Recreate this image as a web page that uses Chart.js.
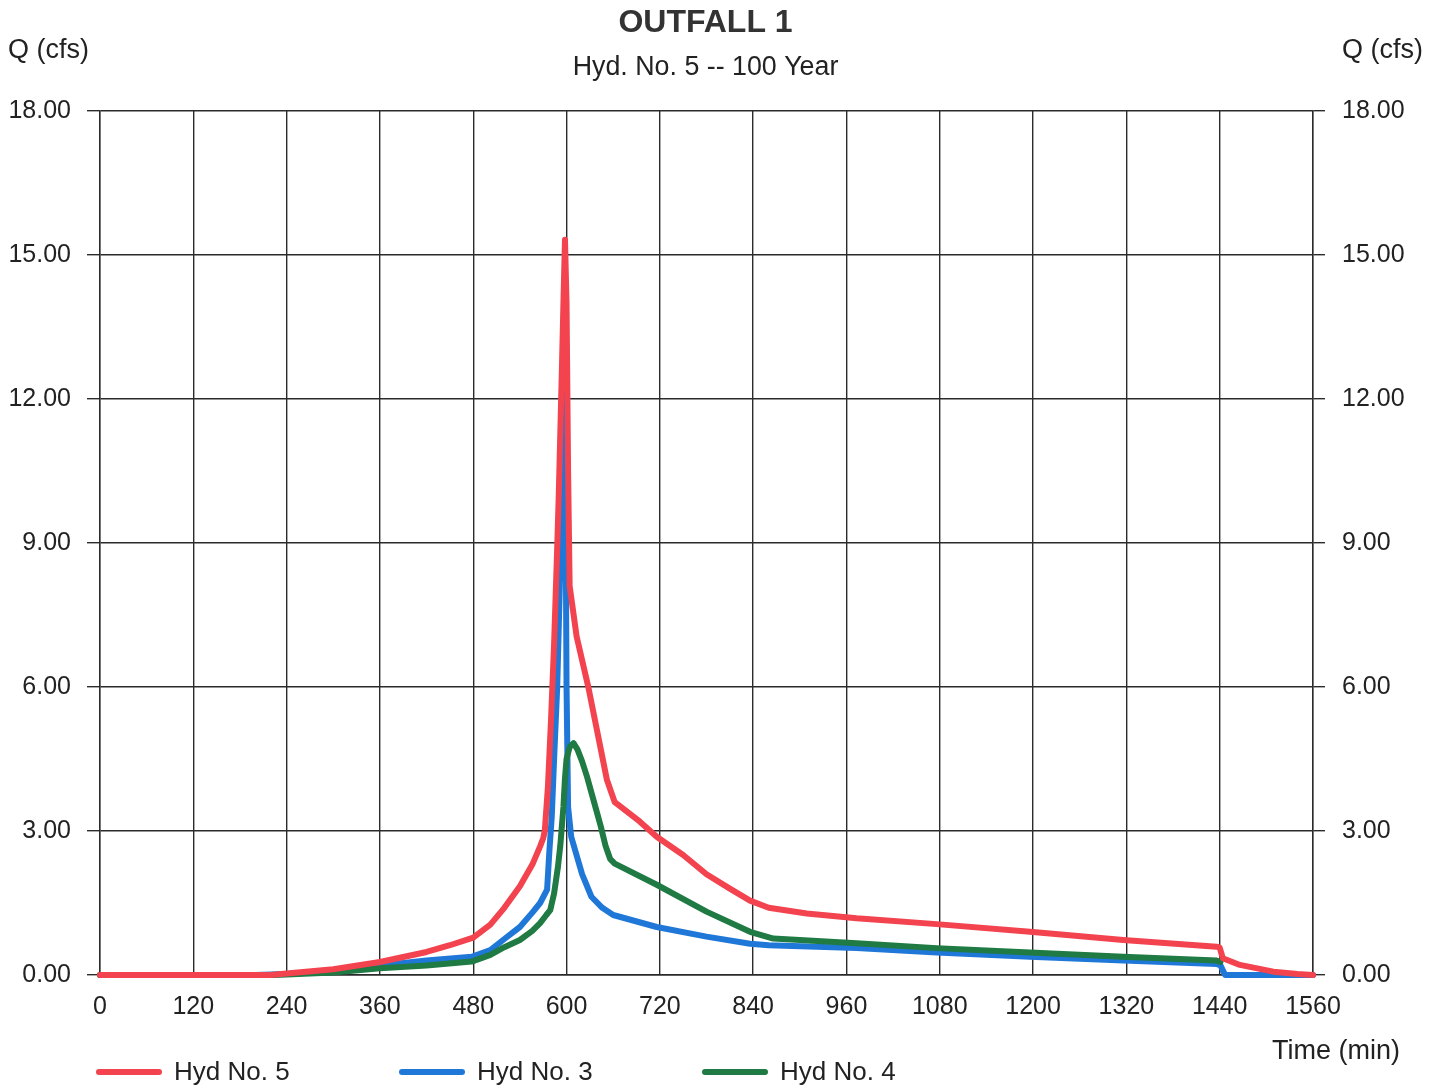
<!DOCTYPE html>
<html>
<head>
<meta charset="utf-8">
<title>OUTFALL 1</title>
<script src="https://cdn.jsdelivr.net/npm/chart.js@4.4.1/dist/chart.umd.min.js"></script>
<style>
  html, body { margin: 0; padding: 0; background: #ffffff; }
  #wrap { width: 1441px; height: 1089px; position: relative; }
</style>
</head>
<body>
<div id="wrap"><canvas id="hydro" width="1441" height="1089"></canvas></div>
<script>
// Hydrograph ordinates: time (min) and flow Q (cfs)
const hyd5Time = [0, 220, 240, 300, 360, 420, 450, 480, 502, 520, 540, 556, 566, 570, 572, 576, 580, 584, 588, 590, 592, 594, 596, 598, 600, 602, 604, 613, 628, 652, 662, 694, 716, 750, 780, 810, 836, 860, 909, 973, 1076, 1196, 1316, 1436, 1440, 1444, 1466, 1509, 1540, 1560];
const hyd5Flow = [0, 0, 0.03, 0.12, 0.27, 0.48, 0.62, 0.78, 1.05, 1.40, 1.85, 2.30, 2.68, 2.85, 3.00, 3.90, 5.30, 6.90, 8.90, 10.0, 11.3, 12.6, 14.0, 15.32, 14.0, 10.5, 8.10, 7.05, 6.00, 4.06, 3.60, 3.20, 2.88, 2.50, 2.10, 1.80, 1.55, 1.40, 1.28, 1.18, 1.06, 0.90, 0.73, 0.59, 0.57, 0.35, 0.21, 0.07, 0.02, 0];

const hyd3Time = [0, 200, 240, 300, 360, 420, 478, 502, 520, 540, 556, 566, 575, 578, 581, 584, 588, 592, 594, 596, 598, 600, 602, 606, 620, 632, 646, 660, 716, 780, 836, 860, 973, 1076, 1196, 1316, 1436, 1441, 1447, 1560];
const hyd3Flow = [0, 0, 0.02, 0.08, 0.20, 0.30, 0.38, 0.52, 0.75, 1.00, 1.30, 1.50, 1.78, 2.60, 3.30, 4.50, 6.00, 8.50, 10.0, 11.5, 12.25, 6.00, 3.50, 2.88, 2.10, 1.63, 1.40, 1.25, 1.00, 0.80, 0.65, 0.62, 0.56, 0.47, 0.38, 0.30, 0.23, 0.20, 0, 0];

const hyd4Time = [0, 220, 240, 300, 360, 420, 478, 502, 520, 540, 556, 566, 574, 579, 584, 589, 592, 594, 596, 598, 600, 604, 609, 614, 620, 626, 632, 638, 644, 650, 656, 662, 716, 780, 836, 866, 973, 1076, 1196, 1316, 1436, 1441];
const hyd4Flow = [0, 0, 0.01, 0.05, 0.14, 0.20, 0.28, 0.42, 0.58, 0.73, 0.92, 1.08, 1.25, 1.35, 1.70, 2.26, 2.70, 3.10, 3.50, 4.10, 4.50, 4.75, 4.83, 4.70, 4.45, 4.15, 3.80, 3.45, 3.10, 2.70, 2.42, 2.32, 1.88, 1.32, 0.90, 0.76, 0.66, 0.56, 0.47, 0.38, 0.30, 0.27];

const seriesNames = ['Hyd No. 5', 'Hyd No. 3', 'Hyd No. 4'];
const seriesColors = ['#f2434f', '#1f78d8', '#1f7a43'];

const timeTicks = [0, 120, 240, 360, 480, 600, 720, 840, 960, 1080, 1200, 1320, 1440, 1560];
const flowTicks = [0, 3, 6, 9, 12, 15, 18];

const chartTitle = 'OUTFALL 1';
const chartSubtitle = 'Hyd. No. 5 -- 100 Year';
const yAxisTitle = 'Q (cfs)';
const xAxisTitle = 'Time (min)';

const FONT = '"Liberation Sans", Arial, Helvetica, sans-serif';
const INK = '#222222';
const GRID = '#2b2b2b';

function toPoints(times, flows) {
  return times.map((t, i) => ({ x: t, y: flows[i] }));
}

// Titles, axis captions and the legend row
const annotations = {
  id: 'annotations',
  afterDraw(chart) {
    const ctx = chart.ctx;
    const area = chart.chartArea;
    const cx = (area.left + area.right) / 2;
    ctx.save();
    ctx.textBaseline = 'middle';

    ctx.textAlign = 'center';
    ctx.font = 'bold 32px ' + FONT;
    ctx.fillStyle = '#333333';
    ctx.fillText(chartTitle, cx - 1, 23);
    ctx.fillStyle = INK;
    ctx.font = '26.8px ' + FONT;
    ctx.fillText(chartSubtitle, cx - 1, 68);

    ctx.font = '27px ' + FONT;
    ctx.textAlign = 'left';
    ctx.fillText(yAxisTitle, 8, 51);
    ctx.fillText(yAxisTitle, area.right + 29, 51);

    ctx.textAlign = 'right';
    ctx.fillText(xAxisTitle, 1400, 1052);

    // legend
    const legendY = 1072;
    const legendX = [97, 400, 703];
    chart.data.datasets.forEach((ds, i) => {
      const x0 = legendX[i];
      ctx.strokeStyle = ds.borderColor;
      ctx.lineWidth = 6;
      ctx.lineCap = 'round';
      ctx.beginPath();
      ctx.moveTo(x0 + 2, legendY);
      ctx.lineTo(x0 + 62, legendY);
      ctx.stroke();
      ctx.fillStyle = INK;
      ctx.textAlign = 'left';
      ctx.font = '26px ' + FONT;
      ctx.fillText(ds.label, x0 + 77, legendY + 1);
    });
    ctx.restore();
  }
};

const tickFont = { family: FONT, size: 25 };

new Chart(document.getElementById('hydro'), {
  type: 'line',
  data: {
    datasets: [
      { label: seriesNames[0], data: toPoints(hyd5Time, hyd5Flow), borderColor: seriesColors[0], order: 0 },
      { label: seriesNames[1], data: toPoints(hyd3Time, hyd3Flow), borderColor: seriesColors[1], order: 2 },
      { label: seriesNames[2], data: toPoints(hyd4Time, hyd4Flow), borderColor: seriesColors[2], order: 1 }
    ].map(ds => Object.assign(ds, {
      borderWidth: 6,
      pointRadius: 0,
      tension: 0,
      fill: false,
      borderJoinStyle: 'round',
      borderCapStyle: 'round'
    }))
  },
  options: {
    responsive: false,
    animation: false,
    devicePixelRatio: 1,
    clip: false,
    layout: { padding: { top: 111, left: 0, right: 0, bottom: 0 } },
    plugins: {
      legend: { display: false },
      title: { display: false },
      tooltip: { enabled: false }
    },
    scales: {
      x: {
        type: 'linear',
        min: timeTicks[0],
        max: timeTicks[timeTicks.length - 1],
        afterBuildTicks(scale) { scale.ticks = timeTicks.map(v => ({ value: v })); },
        afterFit(scale) { scale.height = 114; },
        ticks: { color: INK, font: tickFont, padding: 17, maxRotation: 0, autoSkip: false,
                 callback: v => String(v) },
        grid: { color: GRID, lineWidth: 1.4, drawTicks: false },
        border: { display: true, color: GRID, width: 1.4 }
      },
      y: {
        type: 'linear',
        position: 'left',
        min: 0,
        max: 18,
        afterBuildTicks(scale) { scale.ticks = flowTicks.map(v => ({ value: v })); },
        afterFit(scale) { scale.width = 100; },
        ticks: { color: INK, font: tickFont, padding: 16, callback: v => Number(v).toFixed(2) },
        grid: { color: GRID, lineWidth: 1.4, tickLength: 13 },
        border: { display: true, color: GRID, width: 1.4 }
      },
      y2: {
        type: 'linear',
        position: 'right',
        min: 0,
        max: 18,
        afterBuildTicks(scale) { scale.ticks = flowTicks.map(v => ({ value: v })); },
        afterFit(scale) { scale.width = 128; },
        ticks: { color: INK, font: tickFont, padding: 17, callback: v => Number(v).toFixed(2) },
        grid: { color: GRID, lineWidth: 1.4, tickLength: 12, drawOnChartArea: false },
        border: { display: true, color: GRID, width: 1.4 }
      }
    }
  },
  plugins: [annotations]
});
</script>
</body>
</html>
